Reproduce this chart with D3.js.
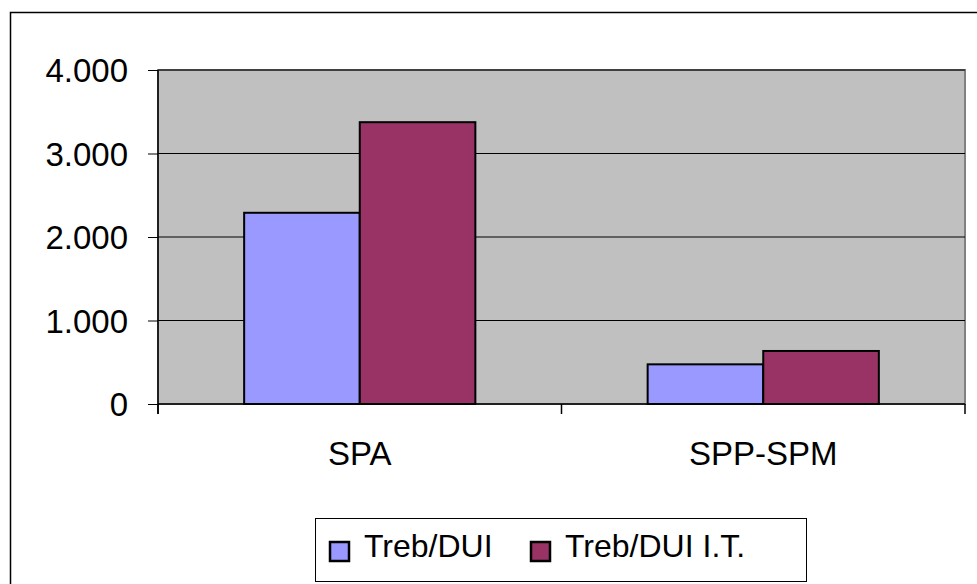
<!DOCTYPE html>
<html>
<head>
<meta charset="utf-8">
<script src="https://cdn.jsdelivr.net/npm/d3@7"></script>
<style>
  body { margin: 0; background: #fff; }
  text { font-family: "Liberation Sans", Arial, sans-serif; fill: #000; }
</style>
</head>
<body>
<div id="chart"></div>
<script>
var categories = ["SPA", "SPP-SPM"];
var seriesNames = ["Treb/DUI", "Treb/DUI I.T."];
var trebDui = [2290, 475];
var trebDuiIT = [3375, 635];
var yTicks = [0, 1000, 2000, 3000, 4000];
var colors = ["#9999ff", "#993366"];

var fullWidth = 977, fullHeight = 584;
var margin = {top: 70, right: 12, bottom: 180, left: 158};
var width = 965 - margin.left;
var height = 404 - margin.top;

var svg = d3.select("#chart").append("svg")
    .attr("width", fullWidth)
    .attr("height", fullHeight);

// outer chart border (runs off the right and bottom)
svg.append("rect")
    .attr("x", 10.5).attr("y", 12.5)
    .attr("width", 1000).attr("height", 1000)
    .attr("fill", "none").attr("stroke", "#000").attr("stroke-width", 1.5);

var g = svg.append("g")
    .attr("transform", "translate(" + margin.left + "," + margin.top + ")");

var x0 = d3.scaleBand().domain(categories).range([0, width]).paddingInner(0).paddingOuter(0);
var x1 = d3.scaleBand().domain(seriesNames).range([x0.bandwidth() * 0.2135, x0.bandwidth() * 0.7865]);
var y = d3.scaleLinear().domain([0, 4000]).range([height, 0]);

g.append("rect")
    .attr("width", width).attr("height", height)
    .attr("fill", "#c0c0c0").attr("stroke", "#808080").attr("stroke-width", 2);

g.selectAll(".grid").data(yTicks.slice(1))
  .enter().append("line")
    .attr("x1", 0).attr("x2", width)
    .attr("y1", function(d) { return y(d); }).attr("y2", function(d) { return y(d); })
    .attr("stroke", "#000").attr("stroke-width", 1);

var data = categories.map(function(c, i) {
  return [{cat: c, name: seriesNames[0], value: trebDui[i]},
          {cat: c, name: seriesNames[1], value: trebDuiIT[i]}];
});

g.selectAll(".grp").data(data)
  .enter().append("g")
    .attr("transform", function(d) { return "translate(" + x0(d[0].cat) + ",0)"; })
  .selectAll("rect").data(function(d) { return d; })
  .enter().append("rect")
    .attr("x", function(d) { return x1(d.name); })
    .attr("y", function(d) { return y(d.value); })
    .attr("width", x1.bandwidth())
    .attr("height", function(d) { return height - y(d.value); })
    .attr("fill", function(d, i) { return colors[i]; })
    .attr("stroke", "#000").attr("stroke-width", 2);

var yAxis = g.append("g")
    .call(d3.axisLeft(y).tickValues(yTicks).tickSize(10).tickPadding(20)
      .tickFormat(function(d) { return d === 0 ? "0" : d3.format(",")(d).replace(/,/g, "."); }));
yAxis.select(".domain").attr("stroke", "#000").attr("stroke-width", 1.5).attr("d", "M0,0V" + (height + 10));
yAxis.selectAll("text").style("font-size", "33px").attr("dy", "0.36em");

var xAxis = g.append("g")
    .attr("transform", "translate(0," + height + ")");
xAxis.append("line").attr("x1", 0).attr("x2", width).attr("stroke", "#000").attr("stroke-width", 1.5);
xAxis.selectAll(".tk").data(d3.range(categories.length + 1))
  .enter().append("line")
    .attr("x1", function(i) { return i * x0.step(); })
    .attr("x2", function(i) { return i * x0.step(); })
    .attr("y1", 0).attr("y2", 10)
    .attr("stroke", "#000").attr("stroke-width", 1.5);
xAxis.selectAll(".lbl").data(categories)
  .enter().append("text")
    .attr("x", function(d) { return x0(d) + x0.bandwidth() / 2; })
    .attr("y", 61)
    .attr("text-anchor", "middle")
    .style("font-size", "33px")
    .text(function(d) { return d; });

// legend
var legend = svg.append("g").attr("transform", "translate(315,518)");
legend.append("rect")
    .attr("x", 0.5).attr("y", 0.5).attr("width", 491).attr("height", 63)
    .attr("fill", "#fff").attr("stroke", "#000").attr("stroke-width", 1);
var item = legend.selectAll(".item").data(seriesNames)
  .enter().append("g")
    .attr("transform", function(d, i) { return "translate(" + (14 + i * 201) + ",0)"; });
item.append("rect")
    .attr("x", 1).attr("y", 24).attr("width", 19).attr("height", 19)
    .attr("fill", function(d, i) { return colors[i]; })
    .attr("stroke", "#000").attr("stroke-width", 2.5);
item.append("text")
    .attr("x", 35).attr("y", 39)
    .style("font-size", "32px")
    .text(function(d) { return d; });
</script>
</body>
</html>
